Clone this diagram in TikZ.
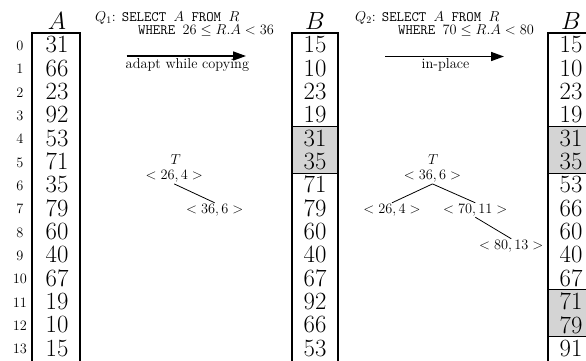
\documentclass[tikz,border=0pt]{standalone}
\usetikzlibrary{arrows.meta}
\definecolor{shadegray}{RGB}{212,212,212}
\begin{document}
\begin{tikzpicture}[x=1bp,y=-1bp,
  cell/.style={font=\Huge, inner sep=0pt, anchor=center},
  idx/.style={font=\Large, inner sep=0pt, anchor=center},
  hdr/.style={font=\Huge, inner sep=0pt, anchor=base},
  txt/.style={font=\Large, inner sep=0pt},
  tnode/.style={font=\Large, inner sep=1pt, anchor=center},
  boxline/.style={line width=1.2bp},
  tedge/.style={line width=0.8bp},
  bigarrow/.style={line width=1.6bp, -{Triangle[length=13bp,width=9bp]}}]
\useasboundingbox (0,0) rectangle (586,360);
\clip (0,0) rectangle (586,360);
\def\top{33}
\def\pitch{23.35}
% shading
\fill[shadegray] (292,{\top+4*\pitch}) rectangle (338,{\top+6*\pitch});
\fill[shadegray] (548,{\top+4*\pitch}) rectangle (594,{\top+6*\pitch});
\fill[shadegray] (548,{\top+11*\pitch}) rectangle (594,{\top+13*\pitch});
% boxes
\draw[boxline] (32,365) -- (32,\top) -- (80,\top) -- (80,365);
\draw[boxline] (292,365) -- (292,\top) -- (338,\top) -- (338,365);
\draw[boxline] (548,365) -- (548,\top) -- (594,\top) -- (594,365);
\draw[boxline] (292,{\top+4*\pitch}) -- (338,{\top+4*\pitch});
\draw[boxline] (292,{\top+6*\pitch}) -- (338,{\top+6*\pitch});
\draw[boxline] (548,{\top+4*\pitch}) -- (594,{\top+4*\pitch});
\draw[boxline] (548,{\top+6*\pitch}) -- (594,{\top+6*\pitch});
\draw[boxline] (548,{\top+11*\pitch}) -- (594,{\top+11*\pitch});
\draw[boxline] (548,{\top+13*\pitch}) -- (594,{\top+13*\pitch});
% headers
\node[hdr] (hA) at (57,29.5) {$A$};
\node[hdr] (hB) at (315,29.5) {$B$};
\node[hdr] (hC) at (571,29.5) {$B$};
% cells
\foreach \v [count=\i from 0] in {31,66,23,92,53,71,35,79,60,40,67,19,10,15}
  \node[cell] (a\i) at (57,{\top+(\i+0.5)*\pitch}) {\v};
\foreach \v [count=\i from 0] in {15,10,23,19,31,35,71,79,60,40,67,92,66,53}
  \node[cell] (b\i) at (315,{\top+(\i+0.5)*\pitch}) {\v};
\foreach \v [count=\i from 0] in {15,10,23,19,31,35,53,66,60,40,67,71,79,91}
  \node[cell] (c\i) at (571,{\top+(\i+0.5)*\pitch}) {\v};
\foreach \i in {0,...,13}
  \node[idx] (i\i) at (20,{\top+(\i+0.5)*\pitch+1}) {\i};
% queries
\node[txt, anchor=base west] (q1a) at (95,21) {$Q_1$: \texttt{SELECT $A$ FROM $R$}};
\node[txt, anchor=base west] (q1b) at (138,34.3) {\texttt{WHERE $26 \le R.A < 36$}};
\node[txt, anchor=base west] (q2a) at (355,21) {$Q_2$: \texttt{SELECT $A$ FROM $R$}};
\node[txt, anchor=base west] (q2b) at (398,34.3) {\texttt{WHERE $70 \le R.A < 80$}};
% arrows
\coordinate (a1s) at (126.7,56);
\coordinate (a1e) at (246,56);
\coordinate (a2s) at (385,56.5);
\coordinate (a2e) at (504,56.5);
\draw[bigarrow] (a1s) -- (a1e);
\draw[bigarrow] (a2s) -- (a2e);
\node[txt, anchor=base] (l1) at (187.4,68) {adapt while copying};
\node[txt, anchor=base] (l2) at (445.5,68) {in-place};
% tree 1
\node[tnode] (t1) at (175.7,159.3) {$T$};
\node[tnode] (t1r) at (174.2,176.7) {$<26,4>$};
\node[tnode] (t1c) at (214.7,210) {$<36,6>$};
\draw[tedge] (t1r.south) -- (t1c.north);
% tree 2
\node[tnode] (t2) at (433.3,159.3) {$T$};
\node[tnode] (t2r) at (432.5,176.7) {$<36,6>$};
\node[tnode] (t2l) at (392,210) {$<26,4>$};
\node[tnode] (t2m) at (475.3,210) {$<70,11>$};
\node[tnode] (t2mm) at (511.3,246) {$<80,13>$};
\draw[tedge] (t2r.south) -- (t2l.north);
\draw[tedge] (t2r.south) -- (t2m.north);
\draw[tedge] (t2m.south) -- (t2mm.north);
\end{tikzpicture}
\end{document}
